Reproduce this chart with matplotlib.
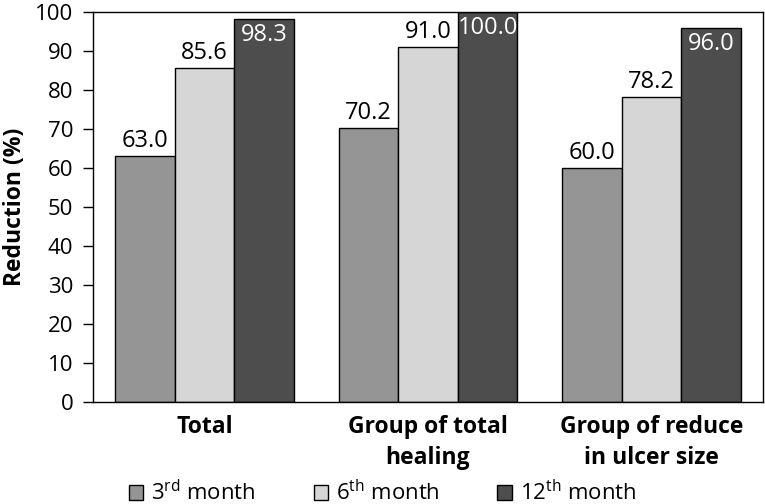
import matplotlib
matplotlib.use("Agg")
import matplotlib.pyplot as plt
import numpy as np
from matplotlib.patches import Patch

plt.rcParams['font.family'] = ['Open Sans', 'DejaVu Sans']
plt.rcParams['mathtext.fontset'] = 'custom'
plt.rcParams['mathtext.rm'] = 'Open Sans'

categories = ["Total", "Group of total\nhealing", "Group of reduce\nin ulcer size"]
series_names = ["3$^{\\rm rd}$ month", "6$^{\\rm th}$ month", "12$^{\\rm th}$ month"]
m3 = [63.0, 70.2, 60.0]
m6 = [85.6, 91.0, 78.2]
m12 = [98.3, 100.0, 96.0]
yticks = [0, 10, 20, 30, 40, 50, 60, 70, 80, 90, 100]

colors = ["#959595", "#d6d6d6", "#4d4d4d"]
series = [m3, m6, m12]

fig = plt.figure(figsize=(7.65, 5.04), dpi=100)
ax = fig.add_axes([93/765, 1-402/504, 670/765, 390/504])

x = np.arange(len(categories))
w = 0.8/3
for i, (vals, c) in enumerate(zip(series, colors)):
    pos = x + (i-1)*w
    ax.bar(pos, vals, width=w, color=c, edgecolor='black', linewidth=1.0, zorder=2)
    for p, v in zip(pos, vals):
        if i == 2:
            ax.text(p, v-1.0, f"{v:.1f}", ha='center', va='top', color='white', fontsize=17, zorder=3)
        else:
            ax.text(p, v+0.8, f"{v:.1f}", ha='center', va='bottom', color='black', fontsize=17, zorder=3)

ax.set_xlim(-0.5, 2.5)
ax.set_ylim(0, 100)
ax.set_yticks(yticks)
ax.set_yticklabels([str(t) for t in yticks], fontsize=16)
ax.tick_params(axis='y', length=7.2, width=1, pad=7)
ax.set_xticks(x)
ax.set_xticklabels(categories, fontsize=16.5, fontweight='bold', linespacing=1.4)
ax.tick_params(axis='x', length=0, pad=9.5)
ax.set_ylabel("Reduction (%)", fontsize=16.5, fontweight='bold', labelpad=6)
for s in ax.spines.values():
    s.set_linewidth(1.0)

handles = [Patch(facecolor=c, edgecolor='black', linewidth=1.0) for c in colors]
fig.legend(handles, series_names, loc='center', bbox_to_anchor=(0.5, 0.022), ncol=3,
           frameon=False, fontsize=16, handlelength=0.65, handleheight=0.65,
           handletextpad=0.35, columnspacing=2.6, borderpad=0)

fig.savefig("out.png", dpi=100)
